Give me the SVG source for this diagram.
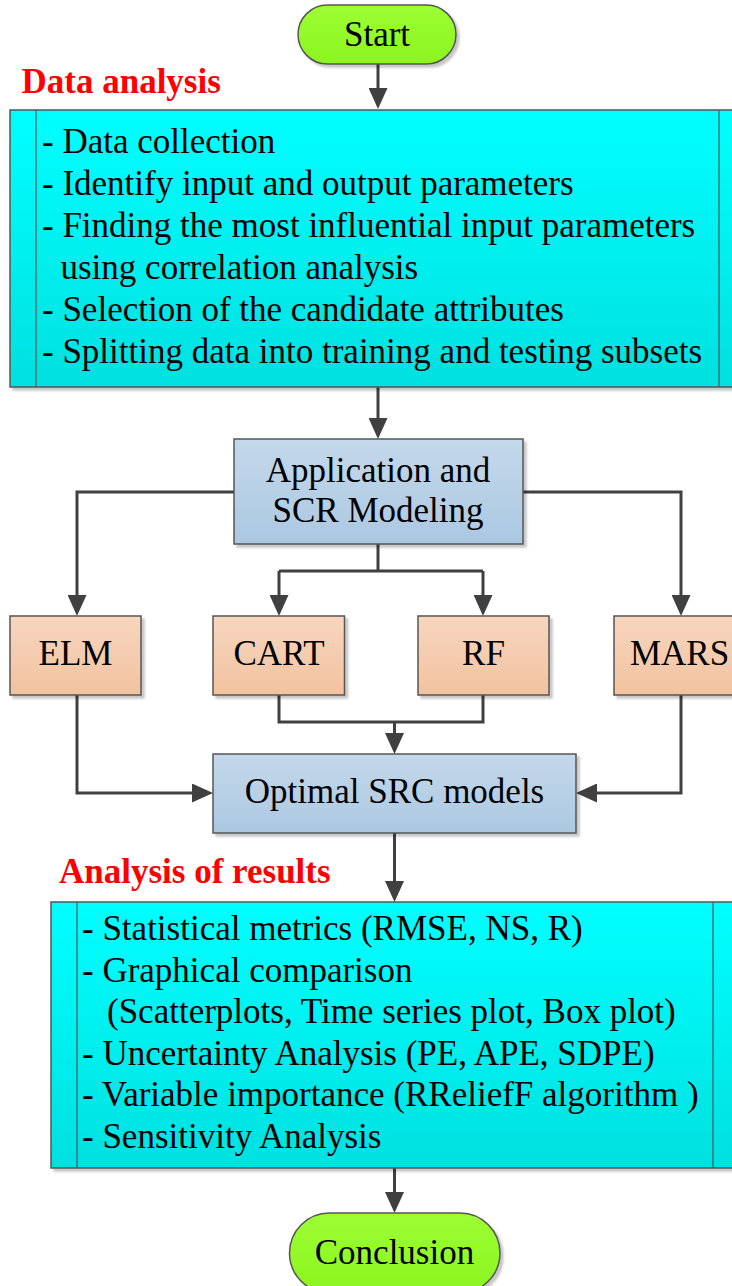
<svg xmlns="http://www.w3.org/2000/svg" width="732" height="1286" viewBox="0 0 732 1286">
<defs>
<linearGradient id="gCyan" x1="0" y1="0" x2="0" y2="1"><stop offset="0" stop-color="#00FFFF"/><stop offset="1" stop-color="#00E0E0"/></linearGradient>
<linearGradient id="gBlue" x1="0" y1="0" x2="0" y2="1"><stop offset="0" stop-color="#C4D8EB"/><stop offset="1" stop-color="#ABC8E1"/></linearGradient>
<linearGradient id="gPeach" x1="0" y1="0" x2="0" y2="1"><stop offset="0" stop-color="#F7D6BF"/><stop offset="1" stop-color="#F2C29F"/></linearGradient>
<linearGradient id="gGreen" x1="0" y1="0" x2="0" y2="1"><stop offset="0" stop-color="#9CFF33"/><stop offset="1" stop-color="#8CF420"/></linearGradient>
<filter id="sh" x="-5%" y="-5%" width="115%" height="120%"><feDropShadow dx="3" dy="3" stdDeviation="1.2" flood-color="#000" flood-opacity="0.22"/></filter>
<marker id="arr" markerUnits="userSpaceOnUse" markerWidth="21" markerHeight="19" viewBox="0 0 21 19" refX="1" refY="9.5" orient="auto"><path d="M0,0 L21,9.5 L0,19 z" fill="#404040"/></marker>
<style>
.box{stroke:#555;stroke-width:1.5;filter:url(#sh)}
.inner{stroke:#555;stroke-width:1.2;fill:none}
.t{font-family:"Liberation Serif","Times New Roman",serif;font-size:35px;fill:#000}
.c{text-anchor:middle}
.h{font-family:"Liberation Serif","Times New Roman",serif;font-size:35px;font-weight:bold;fill:#FF0000}
.con{fill:none;stroke:#404040;stroke-width:3}
.ar{marker-end:url(#arr)}
</style>
</defs>
<rect width="732" height="1286" fill="#FFFFFF"/>

<g id="connectors">
<path class="con ar" d="M378,64 V89"/>
<path class="con ar" d="M378,387 V419"/>
<path class="con ar" d="M234,492 H77 V596"/>
<path class="con ar" d="M523,492 H681 V596"/>
<path class="con" d="M378,544 V571 M279,571 H483"/>
<path class="con ar" d="M279,571 V596"/>
<path class="con ar" d="M483,571 V596"/>
<path class="con" d="M279,695 V722 H483 V695"/>
<path class="con ar" d="M394.5,722 V734"/>
<path class="con ar" d="M77,695 V793 H193"/>
<path class="con ar" d="M681,695 V793 H596"/>
<path class="con ar" d="M394.5,833 V882"/>
<path class="con ar" d="M394.5,1168 V1193"/>
</g>

<text class="h" x="21.5" y="93">Data analysis</text>
<text class="h" x="59" y="883">Analysis of results</text>

<g id="start">
<rect class="box" x="298" y="5" width="158" height="59" rx="29.5" fill="url(#gGreen)"/>
<text class="t c" x="377" y="46">Start</text>
</g>

<g id="data-analysis">
<rect class="box" x="10" y="110" width="735" height="277" fill="url(#gCyan)"/>
<line class="inner" x1="36" y1="110" x2="36" y2="387"/>
<line class="inner" x1="719" y1="110" x2="719" y2="387"/>
<text class="t" x="42" y="153">- Data collection</text>
<text class="t" x="42" y="195">- Identify input and output parameters</text>
<text class="t" x="42" y="237">- Finding the most influential input parameters</text>
<text class="t" x="60.5" y="279">using correlation analysis</text>
<text class="t" x="42" y="321">- Selection of the candidate attributes</text>
<text class="t" x="42" y="363">- Splitting data into training and testing subsets</text>
</g>

<g id="application">
<rect class="box" x="234" y="439" width="289" height="105" fill="url(#gBlue)"/>
<text class="t c" x="378" y="482">Application and</text>
<text class="t c" x="378" y="522">SCR Modeling</text>
</g>

<g id="elm">
<rect class="box" x="10" y="616" width="131" height="79" fill="url(#gPeach)"/>
<text class="t c" x="75.5" y="665">ELM</text>
</g>
<g id="cart">
<rect class="box" x="213" y="616" width="131.5" height="79" fill="url(#gPeach)"/>
<text class="t c" x="279" y="665">CART</text>
</g>
<g id="rf">
<rect class="box" x="418" y="616" width="131" height="79" fill="url(#gPeach)"/>
<text class="t c" x="483.5" y="665">RF</text>
</g>
<g id="mars">
<rect class="box" x="614" y="616" width="131" height="79" fill="url(#gPeach)"/>
<text class="t c" x="679.5" y="665">MARS</text>
</g>

<g id="optimal">
<rect class="box" x="213" y="754" width="363" height="79" fill="url(#gBlue)"/>
<text class="t c" x="394.5" y="803">Optimal SRC models</text>
</g>

<g id="results">
<rect class="box" x="51" y="902" width="688" height="266" fill="url(#gCyan)"/>
<line class="inner" x1="77" y1="902" x2="77" y2="1168"/>
<line class="inner" x1="713" y1="902" x2="713" y2="1168"/>
<text class="t" x="82" y="940">- Statistical metrics (RMSE, NS, R)</text>
<text class="t" x="82" y="981.5">- Graphical comparison</text>
<text class="t" x="107" y="1023">(Scatterplots, Time series plot, Box plot)</text>
<text class="t" x="82" y="1064.5">- Uncertainty Analysis (PE, APE, SDPE)</text>
<text class="t" x="82" y="1106">- Variable importance (RReliefF algorithm )</text>
<text class="t" x="82" y="1147.5">- Sensitivity Analysis</text>
</g>

<g id="conclusion">
<rect class="box" x="289.5" y="1213" width="210.5" height="80" rx="40" fill="url(#gGreen)"/>
<text class="t c" x="394.5" y="1264">Conclusion</text>
</g>
</svg>
